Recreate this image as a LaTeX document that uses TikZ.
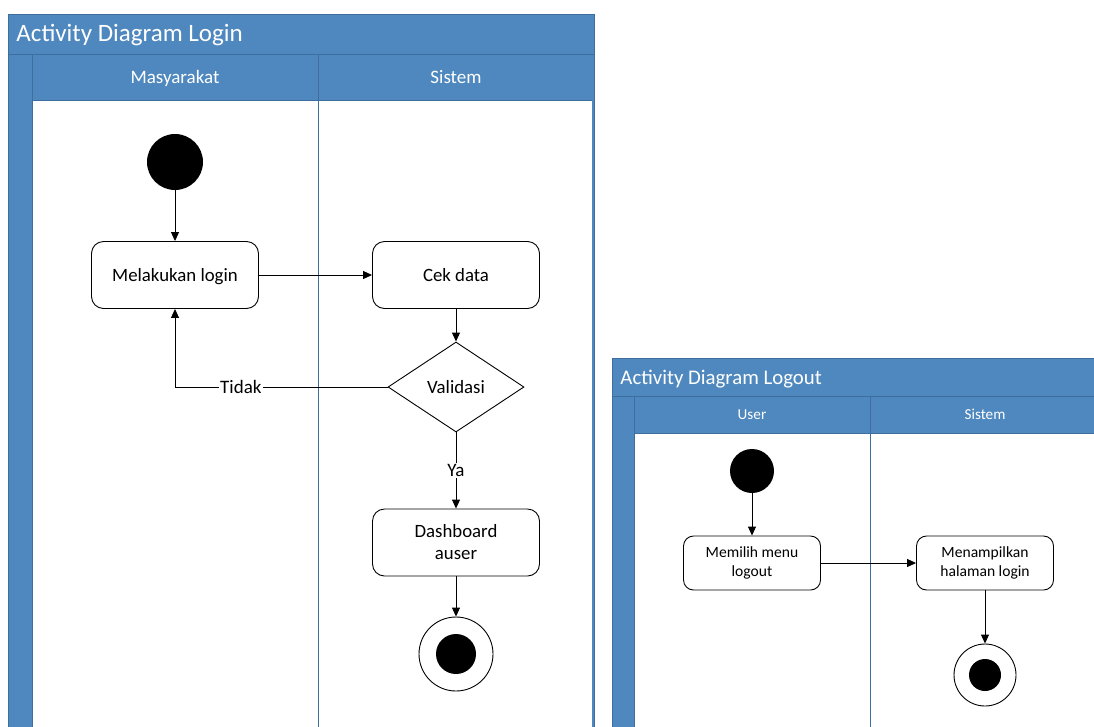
\documentclass[tikz,border=0pt]{standalone}
\usepackage{fontspec}
\setmainfont{Carlito}
\usetikzlibrary{shapes.geometric,positioning,arrows.meta}
\definecolor{poolblue}{RGB}{79,136,190}
\definecolor{pooledge}{RGB}{62,110,158}

\tikzset{
	oneline/.style={text height=#1,text depth=0pt},
	activity/.style={draw,rounded corners=12pt,fill=white,align=center,
		minimum width=167pt,minimum height=67pt,font=\fontsize{18.8}{22}\selectfont},
	smallactivity/.style={activity,rounded corners=10pt,minimum width=137pt,
		minimum height=54pt,font=\fontsize{15.6}{18.5}\selectfont},
	decision/.style={draw,diamond,fill=white,minimum width=136pt,minimum height=90pt,
		inner sep=0pt,oneline=12.4pt,font=\fontsize{18.8}{22}\selectfont},
	startnode/.style={circle,fill=black,minimum size=#1,inner sep=0pt},
	endnode/.style={circle,draw,fill=white,minimum size=#1,inner sep=0pt},
	guard/.style={fill=white,inner sep=1pt,oneline=12.5pt,font=\fontsize{19}{22}\selectfont},
	pooltitle/.style={text=white,anchor=west,inner sep=0pt},
	lanelabel/.style={text=white,inner sep=0pt}
}

\begin{document}
\begin{tikzpicture}[x=1pt,y=-1pt,node distance=100pt,on grid,>={Triangle[length=9pt,width=8pt]},line width=0.9pt]
	\useasboundingbox (0,0) rectangle (1094,726);
	\clip (0,0) rectangle (1094,726);
	% login pool
	\fill[poolblue,draw=pooledge] (8,14) rectangle (594,740);
	\draw[pooledge] (8,54) -- (594,54);
	\fill[white] (32,100) rectangle (592,740);
	\draw[pooledge] (32,54) -- (32,740) (318,54) -- (318,740) (32,100) -- (592,100);
	\node[pooltitle,oneline=16.5pt,font=\fontsize{25}{28}\selectfont] (logintitle) at (16,33) {Activity Diagram Login};
	\node[lanelabel,oneline=12.5pt,font=\fontsize{19}{22}\selectfont] (lanemas) at (175,77) {Masyarakat};
	\node[lanelabel,oneline=12.5pt,font=\fontsize{19}{22}\selectfont] (lanesis) at (456,77) {Sistem};
	% logout pool
	\fill[poolblue,draw=pooledge] (612,358) rectangle (1110,740);
	\draw[pooledge] (612,396) -- (1110,396);
	\fill[white] (634,433) rectangle (1110,740);
	\draw[pooledge] (634,396) -- (634,740) (870,396) -- (870,740) (634,433) -- (1110,433);
	\node[pooltitle,oneline=13.7pt,font=\fontsize{20.8}{24}\selectfont] (logouttitle) at (620,378) {Activity Diagram Logout};
	\node[lanelabel,oneline=10pt,font=\fontsize{15.2}{18}\selectfont] (laneuser) at (752,414) {User};
	\node[lanelabel,oneline=10pt,font=\fontsize{15.2}{18}\selectfont] (lanesis2) at (985,414) {Sistem};

	% login flow
	\node[startnode=56pt] (s0) at (175,162) {};
	\node[activity,oneline=12.4pt] (login) [below=113pt of s0] {Melakukan login};
	\node[activity,oneline=12.4pt] (cek) [right=281pt of login] {Cek data};
	\node[decision] (val) [below=112pt of cek] {Validasi};
	\node[activity] (dash) [below=155.5pt of val] {Dashboard\\auser};
	\node[endnode=74pt] (e0) [below=111.5pt of dash] {};
	\node[startnode=40pt] at (e0) {};
	\path[->]
	(s0) edge (login)
	(login) edge (cek)
	(cek) edge (val)
	(val) edge node[guard] {Ya} (dash)
	(dash) edge (e0);
	\draw[->] (val.west) -| node[guard,pos=0.345] {Tidak} (login.south);

	% logout flow
	\node[startnode=44pt] (s1) at (752,471) {};
	\node[smallactivity] (pilih) [below=92pt of s1] {Memilih menu\\logout};
	\node[smallactivity] (tampil) [right=233pt of pilih] {Menampilkan\\halaman login};
	\node[endnode=62pt] (e1) [below=112pt of tampil] {};
	\node[startnode=32pt] at (e1) {};
	\path[->]
	(s1) edge (pilih)
	(pilih) edge (tampil)
	(tampil) edge (e1);
\end{tikzpicture}
\end{document}
